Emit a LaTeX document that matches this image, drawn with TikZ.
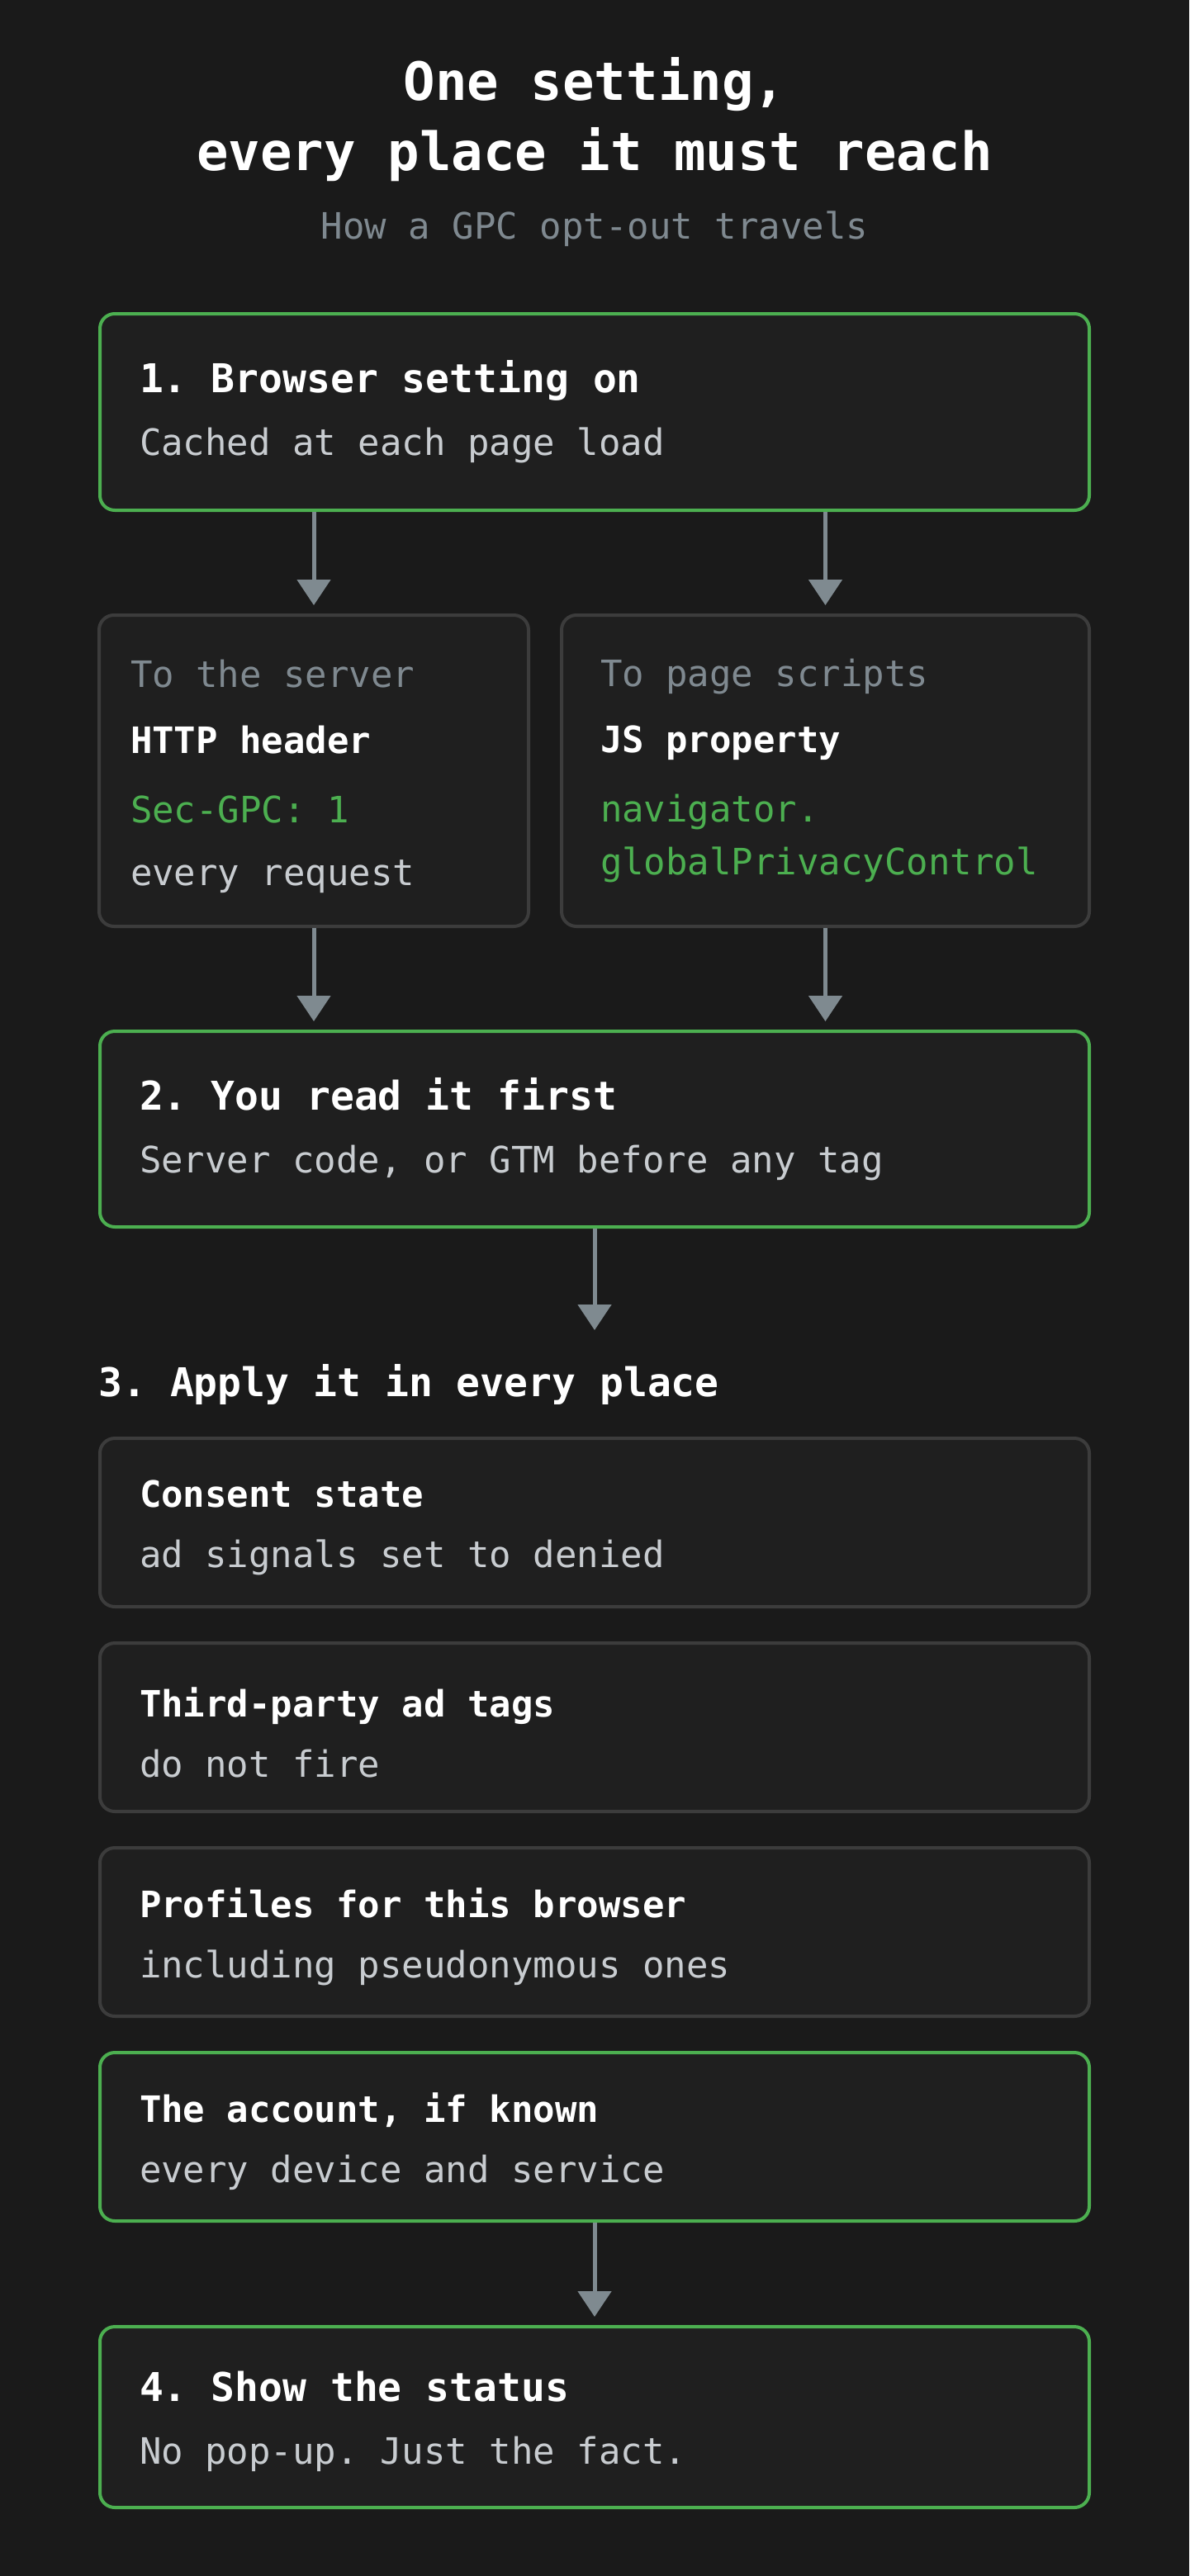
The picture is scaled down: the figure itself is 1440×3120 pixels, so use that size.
\documentclass[tikz,border=0pt]{standalone}
\usepackage{xcolor}
\usepackage{fontspec}
\setmainfont{DejaVu Sans Mono}
\usepackage{tikz}
\usetikzlibrary{arrows.meta}
\frenchspacing
\definecolor{pageBg}{HTML}{1A1A1A}
\definecolor{boxBg}{HTML}{1F1F1F}
\definecolor{boxEdge}{HTML}{3C3C3C}
\definecolor{gpcGreen}{HTML}{4CAF50}
\definecolor{arrowGray}{HTML}{7F8A90}
\definecolor{bodyText}{HTML}{C8CCD0}
\definecolor{mutedText}{HTML}{7F8990}
\newcommand{\stepTitle}[1]{{\fontsize{24}{38}\selectfont\bfseries\color{white}#1}}
\newcommand{\placeTitle}[1]{{\bfseries\color{white}#1}}
\newcommand{\dropText}[1]{\endgraf\vspace{-#1}}
\tikzstyle{stepBlock} = [rectangle, draw=gpcGreen, line width=2pt, fill=boxBg, rounded corners=9pt,
    text width=551pt, inner xsep=24pt, align=flush left, text=bodyText, font=\fontsize{22}{38}\selectfont]
\tikzstyle{placeBlock} = [stepBlock, draw=boxEdge, minimum height=102pt, font=\fontsize{22}{36.5}\selectfont,
    execute at end node={\dropText{6pt}}]
\tikzstyle{accountBlock} = [placeBlock, draw=gpcGreen]
\tikzstyle{routeBlock} = [rectangle, draw=boxEdge, line width=2pt, fill=boxBg, rounded corners=9pt,
    align=flush left, text=bodyText, minimum height=188.5pt, font=\fontsize{22}{32}\selectfont]
\tikzstyle{heading} = [inner sep=0pt, text=white, font=\fontsize{32}{42}\selectfont\bfseries]
\tikzstyle{line} = [draw=arrowGray, line width=2.5pt, -{Triangle[width=20pt,length=15.5pt]}, shorten >=5pt]
\begin{document}
\begin{tikzpicture}[x=0.5pt, y=-0.5pt, node distance=124pt]
    \useasboundingbox (0,0) rectangle (1440,3120);
    \fill [pageBg] (0,0) rectangle (1440,3120);
    % Place nodes
    \node [heading, anchor=base] (titleA) at (720,122) {One setting,};
    \node [heading, anchor=base] (titleB) at (720,206.5) {every place it must reach};
    \node [heading, anchor=base, text=mutedText, font=\fontsize{22}{30}\selectfont] (subtitle) at (720,290) {How a GPC opt-out travels};
    \node [stepBlock, minimum height=119pt] (step1) at (720,499) {\stepTitle{1. Browser setting on}\\ Cached at each page load};
    \node [routeBlock, text width=222pt, inner xsep=19pt, execute at end node={\dropText{7pt}}] (serverBox) at (380,933.5)
        {{\color{mutedText}To the server}\\[8pt] \placeTitle{HTTP header}\\[10pt] {\color{gpcGreen}Sec-GPC: 1}\\[6pt] every request};
    \node [routeBlock, text width=272.5pt, inner xsep=23.5pt] (scriptBox) at (999.5,933.5)
        {{\color{mutedText}To page scripts}\\[8pt] \placeTitle{JS property}\\[10pt] {\color{gpcGreen}navigator.}\\ {\color{gpcGreen}globalPrivacyControl}};
    \node [stepBlock, minimum height=118.5pt] (step2) at (720,1367.5) {\stepTitle{2. You read it first}\\ Server code, or GTM before any tag};
    \coordinate (applyIn) at (720,1611);
    \node [heading, anchor=base west, font=\fontsize{24}{30}\selectfont\bfseries] (applyHead) at (119,1691.5) {3. Apply it in every place};
    \node [placeBlock] (consent) at (720,1844) {\placeTitle{Consent state}\\ ad signals set to denied};
    \node [placeBlock, below of=consent] (adTags) {\placeTitle{Third-party ad tags}\\ do not fire};
    \node [placeBlock, below of=adTags] (profiles) {\placeTitle{Profiles for this browser}\\ including pseudonymous ones};
    \node [accountBlock, below of=profiles] (account) {\placeTitle{The account, if known}\\ every device and service};
    \node [stepBlock, minimum height=109.5pt, execute at end node={\dropText{5pt}}] (step4) at (720,2927.5) {\stepTitle{4. Show the status}\\ No pop-up. Just the fact.};

    % Draw edges
    \path [line] (step1.south -| serverBox.north) -- (serverBox.north);
    \path [line] (step1.south -| scriptBox.north) -- (scriptBox.north);
    \path [line] (serverBox.south) -- (step2.north -| serverBox.south);
    \path [line] (scriptBox.south) -- (step2.north -| scriptBox.south);
    \path [line, shorten >=0pt] (step2.south) -- (applyIn);
    \path [line] (account.south) -- (step4.north);
\end{tikzpicture}
\end{document}
